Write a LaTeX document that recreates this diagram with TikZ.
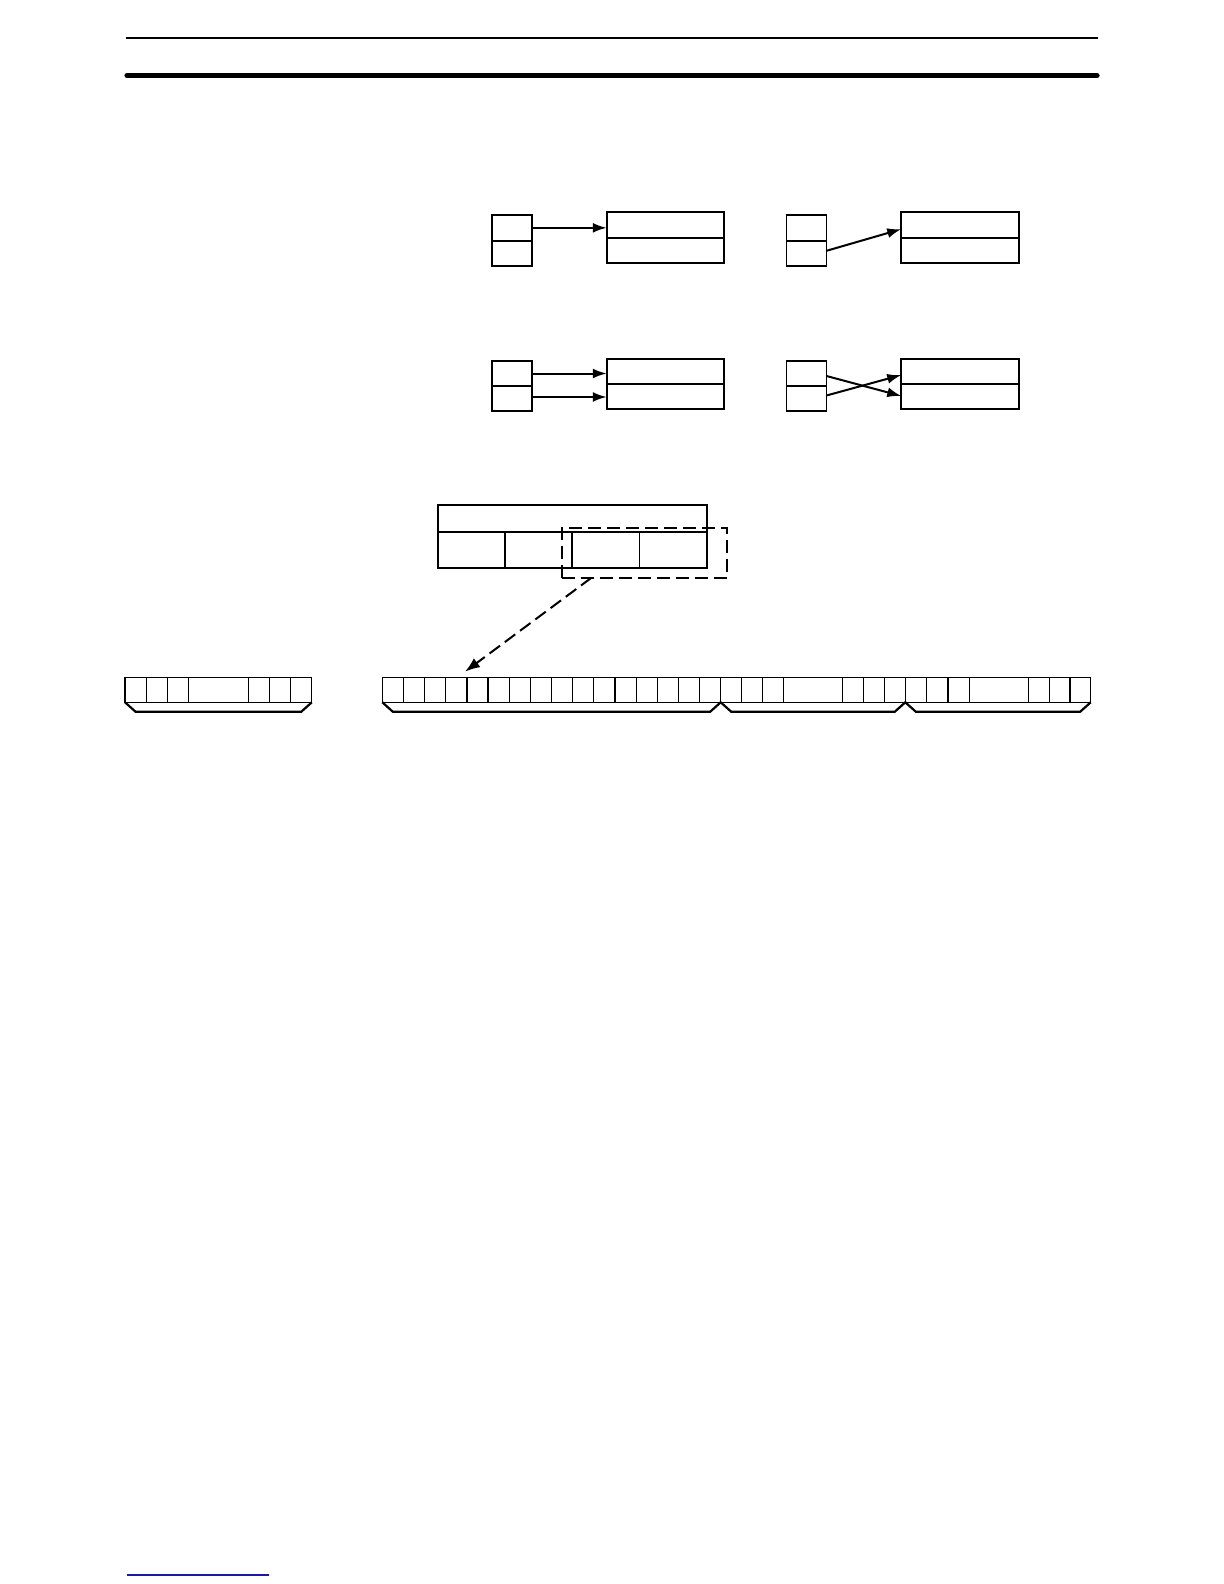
\documentclass[tikz,border=0pt]{standalone}
\usetikzlibrary{arrows.meta,calc}
\definecolor{linkblue}{RGB}{25,25,165}
\begin{document}
\begin{tikzpicture}[x=0.5pt,y=-0.5pt,
  box/.style={draw,rectangle,line width=0.9pt,inner sep=0pt,outer sep=0pt},
  arr/.style={line width=1pt,-{Latex[length=7pt,width=5pt]}},
  dsh/.style={line width=0.9pt,dash pattern=on 6.5pt off 3pt},
  strip/.style={line width=0.6pt},
  brack/.style={line width=1.1pt,line join=miter}]
\useasboundingbox (0,0) rectangle (1224,1584);
% header rules
\draw[line width=0.9pt] (126,38) -- (1098,38);
\draw[line width=2.6pt,line cap=round] (127,75.7) -- (1097,75.7);
% row 1
\node[box,minimum width=20pt,minimum height=25.5pt] (sA) at (512,240.6) {};
\node[box,minimum width=58.75pt,minimum height=25.5pt] (bA) at (665.5,237.8) {};
\node[box,minimum width=20pt,minimum height=25.5pt] (sB) at (806.5,240.6) {};
\node[box,minimum width=58.75pt,minimum height=25.5pt] (bB) at (960,237.8) {};
\draw[line width=0.9pt] (sA.west) -- (sA.east) (bA.west) -- (bA.east)
  (sB.west) -- (sB.east) (bB.west) -- (bB.east);
\coordinate (aS) at ($(sA.north east)!0.25!(sA.south east)$);
\draw[arr] (aS) -- (aS -| bA.west);
\coordinate (bS) at ($(sB.north east)!0.7!(sB.south east)$);
\coordinate (bE) at ($(bB.north west)!0.33!(bB.south west)$);
\draw[arr] (bS) -- (bE);
% row 2
\node[box,minimum width=20pt,minimum height=25pt] (sC) at (512,386) {};
\node[box,minimum width=58.75pt,minimum height=25pt] (bC) at (665.5,384) {};
\node[box,minimum width=20pt,minimum height=25pt] (sD) at (806.5,386) {};
\node[box,minimum width=58.75pt,minimum height=25pt] (bD) at (960,384) {};
\draw[line width=0.9pt] (sC.west) -- (sC.east) (sD.west) -- (sD.east);
\draw[line width=0.6pt] (bC.west) -- (bC.east) (bD.west) -- (bD.east);
\coordinate (c1) at ($(sC.north east)!0.25!(sC.south east)$);
\coordinate (c2) at ($(sC.north east)!0.72!(sC.south east)$);
\draw[arr] (c1) -- (c1 -| bC.west);
\draw[arr] (c2) -- (c2 -| bC.west);
\coordinate (d1) at ($(sD.north east)!0.3!(sD.south east)$);
\coordinate (d2) at ($(sD.north east)!0.69!(sD.south east)$);
\coordinate (e1) at ($(bD.north west)!0.74!(bD.south west)$);
\coordinate (e2) at ($(bD.north west)!0.32!(bD.south west)$);
\draw[arr] (d1) -- (e1);
\draw[arr] (d2) -- (e2);
% word box
\node[box,minimum width=134.5pt,minimum height=31.35pt] (E) at (572.2,536.35) {};
\draw[line width=0.9pt] (437.7,531.7) -- (706.7,531.7);
\foreach \x in {504.95,572.2,639.45} \draw[line width=0.9pt] (\x,531.7) -- (\x,567.7);
\node[draw,rectangle,dsh,inner sep=0pt,outer sep=0pt,minimum width=82.8pt,minimum height=25pt] (dash) at (644.5,552.7) {};
\coordinate (dS) at ($(dash.south west)!0.18!(dash.south east)$);
\coordinate (tip) at (465,671.7);
\draw[dsh,line width=1pt,-{Latex[length=7.5pt,width=5.5pt]}] (dS) -- (tip);
% left strip
\draw[strip] (125,677.3) rectangle (311.8,702.3);
\foreach \x in {146.2,167.4,188.6,248.3,269.5,290.6} \draw[strip] (\x,677.3) -- (\x,702.3);
\draw[brack] (125,702.3) -- (135.5,711.7) -- (301.3,711.7) -- (311.8,702.3);
% right strip
\draw[strip] (382.3,677.3) rectangle (1090.7,702.3);
\foreach \k in {1,...,16} \draw[strip] ({382.3+21.15*\k},677.3) -- ++(0,25);
\foreach \x in {741.6,762.5,783.4,842.8,863.6,884.5,905.3,926.6,947.9,969.3,1028.3,1049.1,1069.9} \draw[strip] (\x,677.3) -- (\x,702.3);
\draw[brack] (382.3,702.3) -- (392.8,711.7) -- (710.2,711.7) -- (720.7,702.3) -- (731.2,711.7)
  -- (894.8,711.7) -- (905.3,702.3) -- (915.8,711.7) -- (1080.2,711.7) -- (1090.7,702.3);
% footer link line
\draw[linkblue,line width=0.7pt] (127.3,1575) -- (269,1575);
\end{tikzpicture}
\end{document}
